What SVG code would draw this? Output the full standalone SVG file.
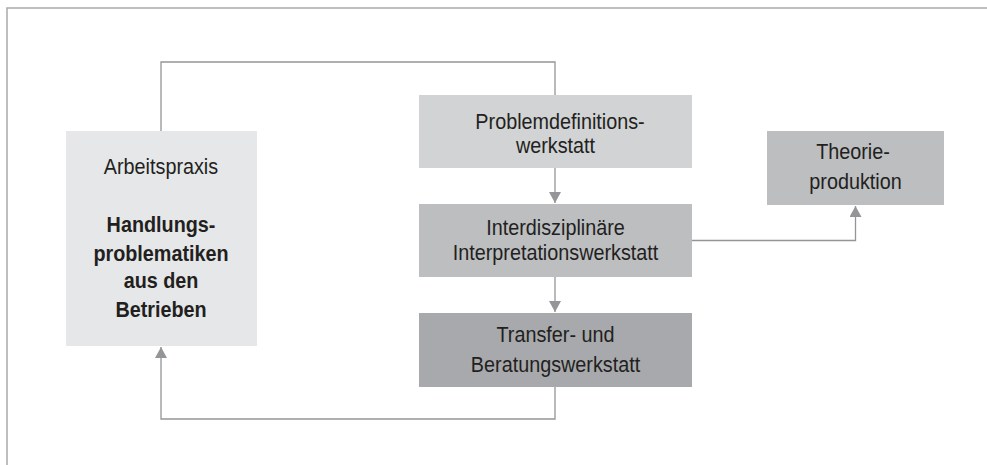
<svg xmlns="http://www.w3.org/2000/svg" width="987" height="465" viewBox="0 0 987 465">
<defs>
<style>
.t{font-family:"Liberation Sans",Arial,sans-serif;font-size:22px;fill:#231f20;text-anchor:middle}
.b{font-weight:bold;font-size:22px}
.c{fill:none;stroke:#939598;stroke-width:1.3}
</style>
<marker id="ah" markerUnits="userSpaceOnUse" markerWidth="12" markerHeight="12" refX="11" refY="6" orient="auto">
<path d="M0,0 L11,6 L0,12 z" fill="#939598"/>
</marker>
</defs>
<rect width="987" height="465" fill="#fff"/>
<path d="M7,465 V8 H987" fill="none" stroke="#a7a9ac" stroke-width="1.5"/>
<g id="connectors">
<path class="c" d="M161,131 V62 H555 V95"/>
<path class="c" d="M555,168 V203" marker-end="url(#ah)"/>
<path class="c" d="M555,277 V312" marker-end="url(#ah)"/>
<path class="c" d="M692,240.5 H855.5 V206" marker-end="url(#ah)"/>
<path class="c" d="M555,387 V419 H161 V347" marker-end="url(#ah)"/>
</g>
<g id="arbeitspraxis">
<rect x="66" y="131" width="191" height="215" fill="#e6e7e8"/>
<text class="t" transform="translate(161,174) scale(0.9,1)">Arbeitspraxis</text>
<text class="t b" transform="translate(161,232) scale(0.9,1)">Handlungs-</text>
<text class="t b" transform="translate(161,260.5) scale(0.9,1)">problematiken</text>
<text class="t b" transform="translate(161,288) scale(0.9,1)">aus den</text>
<text class="t b" transform="translate(161,317) scale(0.9,1)">Betrieben</text>
</g>
<g id="problemdefinition">
<rect x="419" y="95" width="273" height="73" fill="#d1d3d4"/>
<text class="t" transform="translate(560,129) scale(0.9,1)">Problemdefinitions-</text>
<text class="t" transform="translate(555.5,153) scale(0.9,1)">werkstatt</text>
</g>
<g id="interpretation">
<rect x="419" y="204" width="273" height="73" fill="#bcbec0"/>
<text class="t" transform="translate(555.5,234.5) scale(0.9,1)">Interdisziplinäre</text>
<text class="t" transform="translate(555.5,260) scale(0.9,1)">Interpretationswerkstatt</text>
</g>
<g id="transfer">
<rect x="419" y="313" width="273" height="74" fill="#a7a9ac"/>
<text class="t" transform="translate(555.5,342) scale(0.9,1)">Transfer- und</text>
<text class="t" transform="translate(555.5,371.5) scale(0.9,1)">Beratungswerkstatt</text>
</g>
<g id="theorie">
<rect x="767" y="131" width="177" height="74" fill="#bcbec0"/>
<text class="t" transform="translate(853,158.5) scale(0.9,1)">Theorie-</text>
<text class="t" transform="translate(855.5,189) scale(0.9,1)">produktion</text>
</g>
</svg>
